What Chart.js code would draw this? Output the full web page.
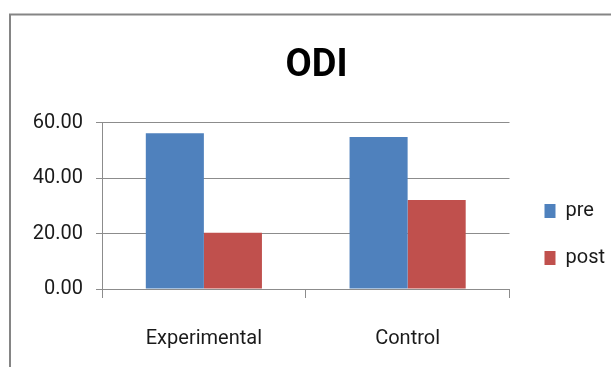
<!DOCTYPE html>
<html>
<head>
<meta charset="utf-8">
<script src="https://cdn.jsdelivr.net/npm/chart.js@4/dist/chart.umd.min.js"></script>
<style>
  html, body { margin: 0; padding: 0; background: #fff; }
  #wrap { position: relative; width: 611px; height: 367px; }
</style>
</head>
<body>
<div id="wrap"><canvas id="odi"></canvas></div>
<script>
// ODI scores, pre vs post, by group
const categories = ['Experimental', 'Control'];
const seriesNames = ['pre', 'post'];
const preValues = [56.2, 54.8];
const postValues = [20.3, 32.1];
const tickValues = [0, 20, 40, 60];

const FONT = "Roboto, 'Liberation Sans', Arial, sans-serif";
const TEXT = '#1a1a1a';
const RULE = '#8c8c8c';

// white page with the frame's top and left edges
const framePlugin = {
  id: 'frame',
  beforeDraw(chart) {
    const ctx = chart.ctx;
    ctx.save();
    ctx.fillStyle = '#fff';
    ctx.fillRect(0, 0, chart.width, chart.height);
    ctx.strokeStyle = '#858585';
    ctx.lineWidth = 2;
    ctx.beginPath();
    ctx.moveTo(10, chart.height);
    ctx.lineTo(10, 14.5);
    ctx.lineTo(chart.width, 14.5);
    ctx.stroke();
    ctx.restore();
  }
};

// shift the legend block a little to the right and down
const legendNudge = {
  id: 'legendNudge',
  afterLayout(chart) {
    const lg = chart.legend;
    if (!lg) return;
    lg.left += 8; lg.right += 8;
    lg.top += 6; lg.bottom += 6;
  }
};

new Chart(document.getElementById('odi'), {
  type: 'bar',
  data: {
    labels: categories,
    datasets: [
      { label: seriesNames[0], data: preValues, backgroundColor: '#4F81BD' },
      { label: seriesNames[1], data: postValues, backgroundColor: '#C0504D' }
    ]
  },
  options: {
    responsive: true,
    maintainAspectRatio: false,
    animation: false,
    events: [],
    layout: { padding: { left: 26, right: 4, top: 0, bottom: 0 } },
    datasets: { bar: { categoryPercentage: 0.57, barPercentage: 1.0, borderWidth: 0 } },
    plugins: {
      title: {
        display: true,
        text: 'ODI',
        color: '#000',
        font: { family: FONT, size: 38, weight: 'bold', lineHeight: 1.2 },
        padding: { top: 44, bottom: 33 }
      },
      legend: {
        position: 'right',
        align: 'end',
        fullSize: false,
        labels: {
          color: TEXT,
          font: { family: FONT, size: 20 },
          boxWidth: 11,
          boxHeight: 14,
          padding: 27
        }
      },
      tooltip: { enabled: false }
    },
    scales: {
      x: {
        grid: {
          display: true,
          offset: true,
          drawOnChartArea: false,
          drawTicks: true,
          tickLength: 9,
          color: RULE
        },
        border: { display: true, color: RULE, width: 1 },
        ticks: { color: TEXT, font: { family: FONT, size: 20 }, padding: 29, maxRotation: 0 },
        afterFit(scale) { scale.height = 78; }
      },
      y: {
        min: 0,
        max: 60,
        afterBuildTicks(scale) { scale.ticks = tickValues.map(v => ({ value: v })); },
        grid: { color: RULE, tickLength: 6, drawTicks: true },
        border: { display: true, color: RULE, width: 1 },
        ticks: {
          color: TEXT,
          font: { family: FONT, size: 20 },
          padding: 13,
          callback: v => Number(v).toFixed(2)
        },
        afterFit(scale) { scale.width = 76; }
      }
    }
  },
  plugins: [framePlugin, legendNudge]
});
</script>
</body>
</html>
